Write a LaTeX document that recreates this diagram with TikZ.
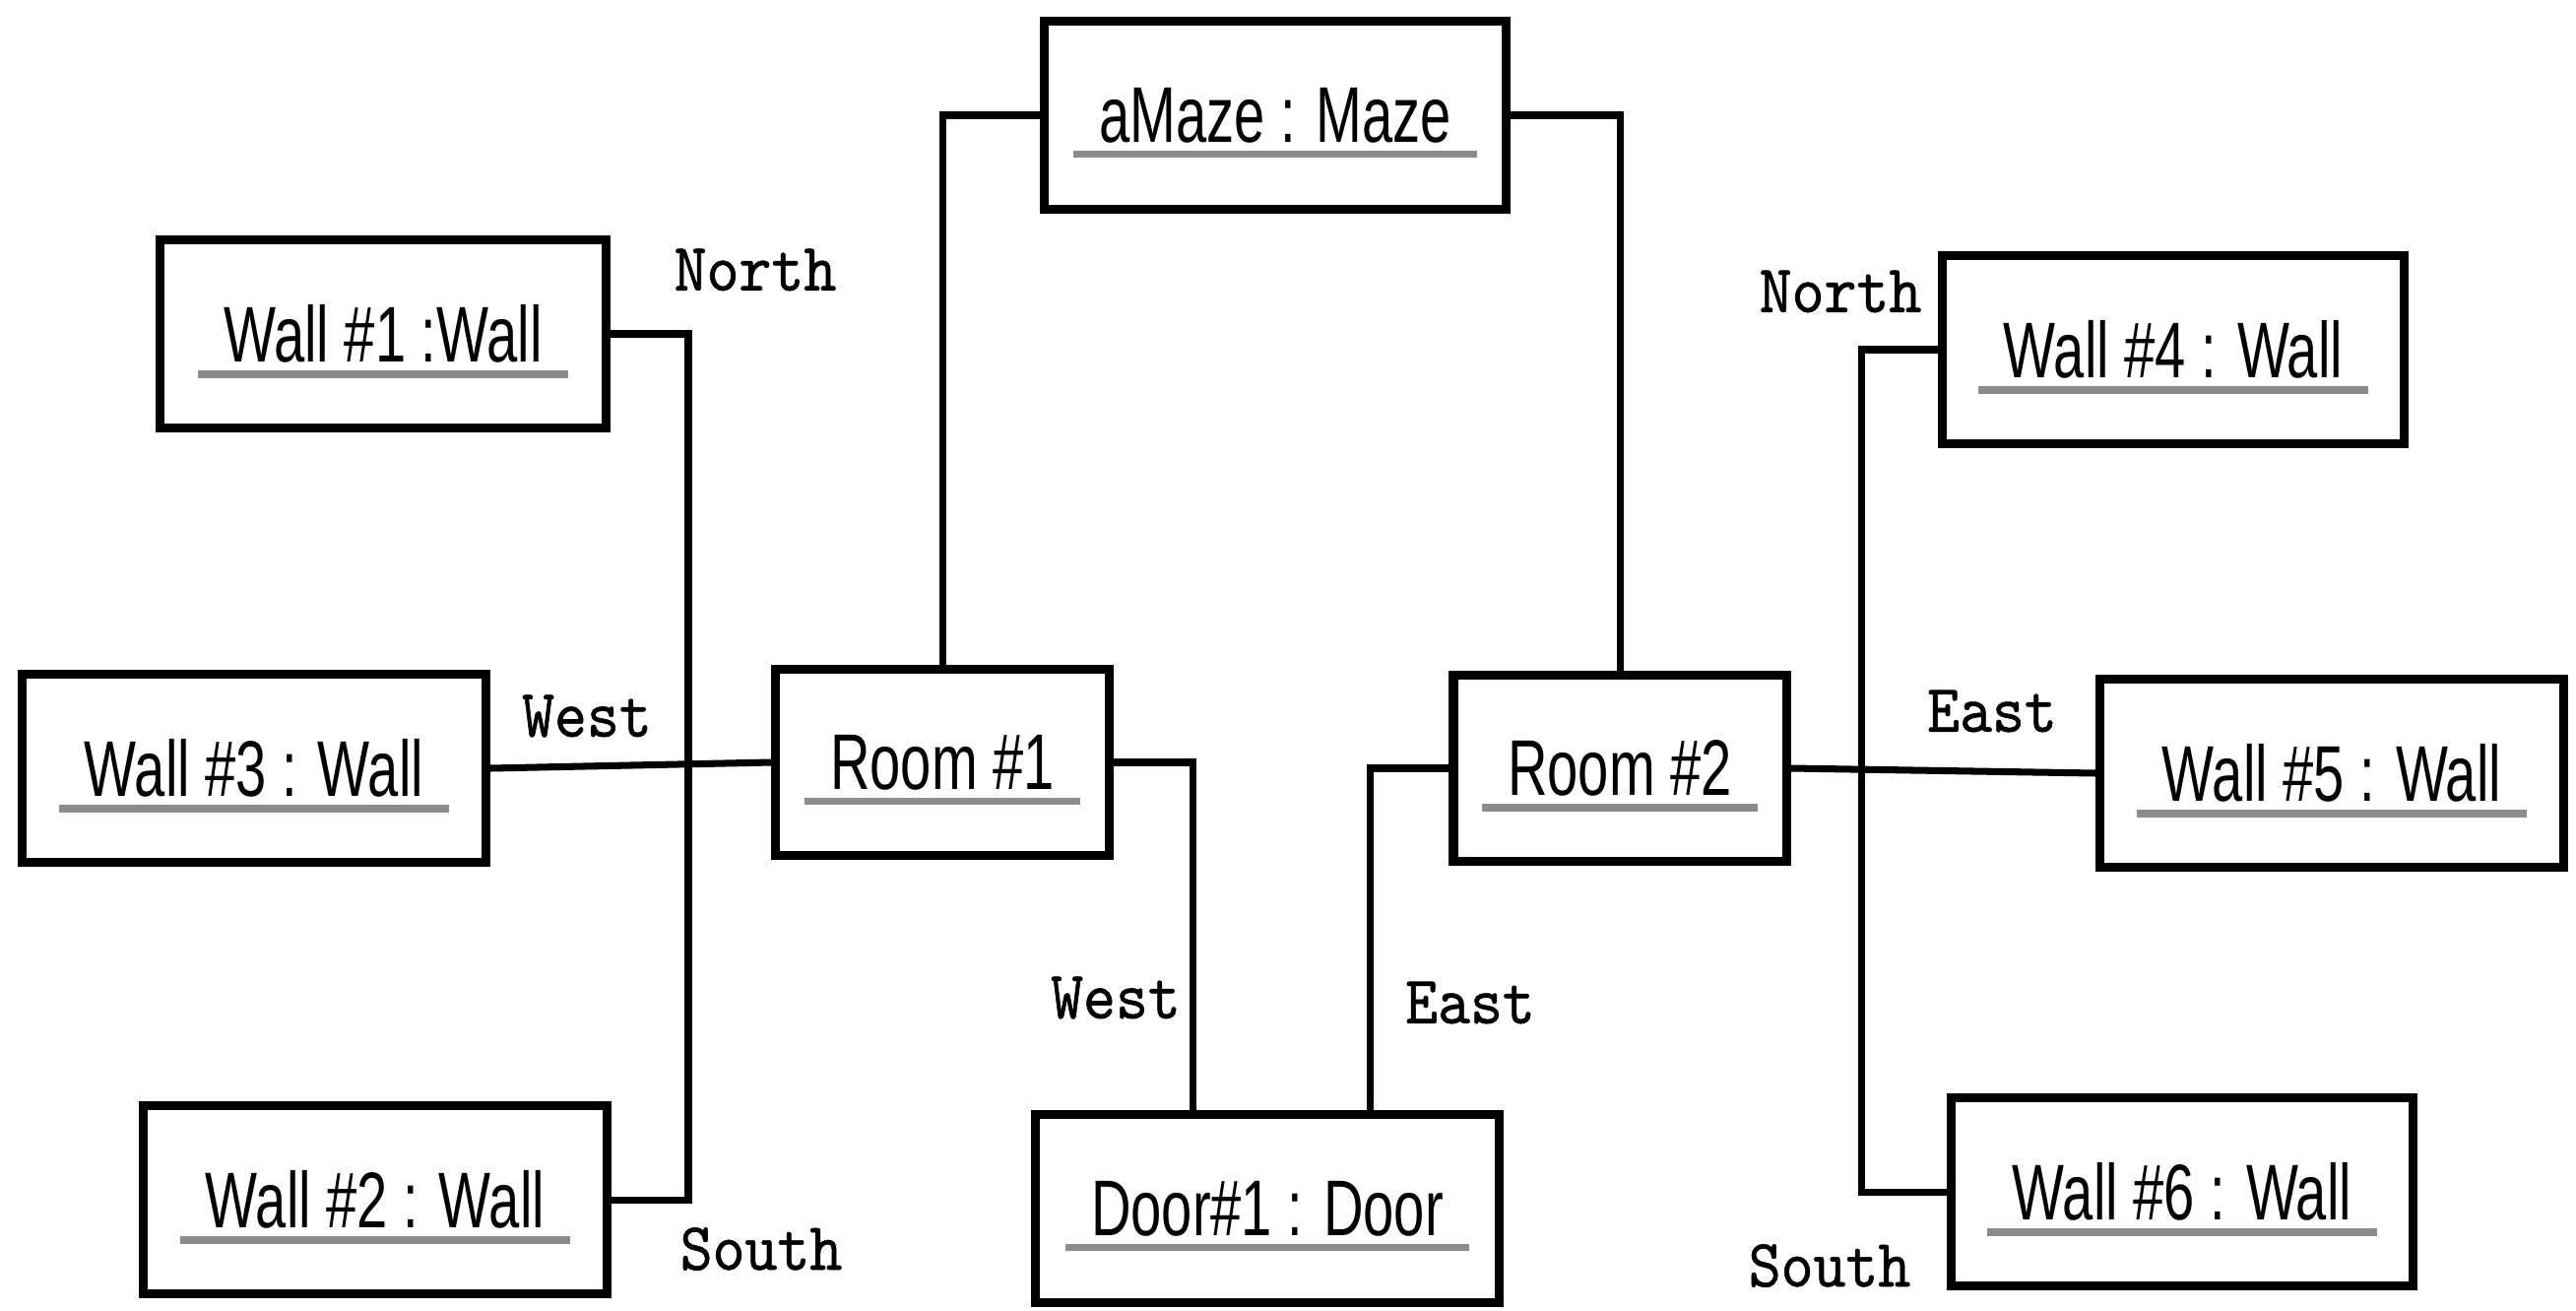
\documentclass[tikz,border=0pt]{standalone}
\usepackage{fontspec}
\usetikzlibrary{calc}
\newfontfamily\boxfont[FakeStretch=0.7]{Liberation Sans}
\newfontfamily\rolefont[FakeStretch=0.91, FakeBold=0.8]{lmmono10-regular.otf}
\definecolor{ulgray}{RGB}{140,140,140}
% object name with a grey underline slightly wider than the text
\newcommand\objname[1]{%
  \setbox0=\hbox{#1}%
  \hbox to \wd0{\hss\smash{\textcolor{ulgray}{\rule[-4.6pt]{\dimexpr\wd0+15pt\relax}{2.1pt}}}\hss}%
  \kern-\wd0\box0}
\tikzset{
  obj/.style={draw, line width=2.6pt, fill=white, inner sep=0pt,
    minimum width=4.70cm, minimum height=1.91cm,
    font=\boxfont\fontsize{22.8}{26}\selectfont},
  room/.style={obj, minimum width=3.38cm, minimum height=1.89cm},
  role/.style={font=\rolefont\fontsize{19.6}{23}\selectfont, inner sep=0pt},
  link/.style={line width=2pt}
}
\begin{document}
\begin{tikzpicture}[x=0.01cm, y=-0.01cm]
\fill[white] (0,0) rectangle (2616,1330);
\useasboundingbox (0,0) rectangle (2616,1330);

% objects
\node[obj, minimum width=4.68cm] (maze) at (1295,117) {\objname{aMaze : Maze}};
\node[obj, minimum width=4.52cm] (w1) at (389,339) {\objname{Wall \#1 :Wall}};
\node[obj] (w3) at (258,780) {\objname{Wall \#3 : Wall}};
\node[obj] (w2) at (381,1218) {\objname{Wall \#2 : Wall}};
\node[room] (r1) at (957,774) {\objname{Room \#1}};
\node[room] (r2) at (1645,780) {\objname{Room \#2}};
\node[obj] (door) at (1287,1227) {\objname{Door\#1 : Door}};
\node[obj, minimum width=4.68cm] (w4) at (2207,355) {\objname{Wall \#4 : Wall}};
\node[obj] (w5) at (2368,785) {\objname{Wall \#5 : Wall}};
\node[obj, minimum width=4.68cm] (w6) at (2216,1210) {\objname{Wall \#6 : Wall}};

% junctions of the wall links
\coordinate (jl) at (699,776);
\coordinate (jr) at (1890,782);

% links
\draw[link] (r1.north) |- (maze.west);
\draw[link] (maze.east) -| (r2.north);
\draw[link] (w3.east) -- (r1.west);
\draw[link] (w1.east) -| (jl) |- (w2.east);
\draw[link] (r1.east) -| ($(door.north)+(-76,0)$);
\draw[link] (r2.west) -| ($(door.north)+(104,0)$);
\draw[link] (r2.east) -- (w5.west);
\draw[link] (w4.west) -| (jr) |- (w6.west);

% role names
\node[role] (lnorth) at (767,274) {North};
\node[role] (lwest) at (596,727) {West};
\node[role] (lsouth) at (773,1268) {South};
\node[role] (dwest) at (1133,1013) {West};
\node[role] (deast) at (1493,1018) {East};
\node[role] (rnorth) at (1869,296) {North};
\node[role] (reast) at (2023,722) {East};
\node[role] (rsouth) at (1858,1285) {South};
\end{tikzpicture}
\end{document}
